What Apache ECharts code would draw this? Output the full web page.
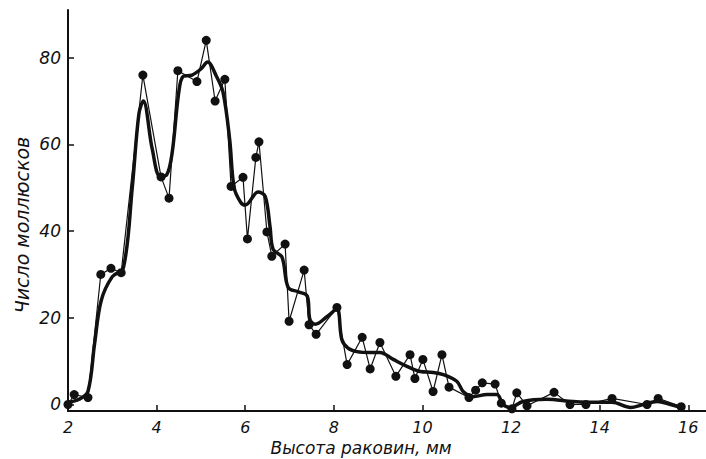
<!DOCTYPE html>
<html>
<head>
<meta charset="utf-8">
<script src="https://cdn.jsdelivr.net/npm/echarts@6/dist/echarts.min.js"></script>
<style>
  html, body { margin: 0; padding: 0; background: #fff; }
  #chart { width: 706px; height: 459px; }
</style>
</head>
<body>
<div id="chart"></div>
<script>
// raw counts (thin line with dots)
var rawX = [2.0, 2.14, 2.45, 2.74, 2.97, 3.2, 3.69, 4.1, 4.28, 4.48, 4.91, 5.12, 5.32, 5.54, 5.68, 5.95,
  6.05, 6.24, 6.31, 6.49, 6.6, 6.9, 6.99, 7.33, 7.44, 7.6, 8.07, 8.3, 8.64, 8.82, 9.04, 9.4,
  9.72, 9.83, 10.01, 10.24, 10.44, 10.6, 11.05, 11.2, 11.35, 11.64, 11.78, 12.02, 12.13, 12.36,
  12.97, 13.33, 13.69, 14.28, 15.07, 15.32, 15.84];
var rawY = [0, 2.3, 1.6, 30, 31.4, 30.4, 76, 52.5, 47.6, 77, 74.5, 84, 70, 75, 50.3, 52.4,
  38.2, 57, 60.6, 39.8, 34.2, 37, 19.2, 31, 18.4, 16.2, 22.4, 9.2, 15.5, 8.2, 14.3, 6.5,
  11.5, 6, 10.4, 3, 11.5, 4, 1.6, 3.3, 5, 4.7, 0.3, -1, 2.7, -0.3,
  2.8, 0, 0, 1.4, 0, 1.4, -0.5];

// smoothed curve (thick line)
var smoothX = [2.0, 2.25, 2.45, 2.6, 2.75, 3.0, 3.25, 3.45, 3.6, 3.7, 3.9, 4.08, 4.23, 4.35, 4.5, 4.6,
  4.8, 5.0, 5.15, 5.35, 5.5, 5.65, 5.75, 5.9, 6.0, 6.29, 6.45, 6.56, 6.63, 6.83, 6.97, 7.2, 7.4,
  7.46, 7.58, 7.85, 8.07, 8.18, 8.32, 8.52, 8.82, 9.04, 9.34, 9.65, 9.95, 10.24, 10.47, 10.78,
  10.92, 11.14, 11.46, 11.68, 11.82, 11.98, 12.27, 12.8, 13.4, 13.94, 14.28, 14.7, 14.98, 15.3,
  15.6, 15.84];
var smoothY = [0.5, 1.2, 3, 14, 24, 29.5, 31.5, 50, 67, 70, 59, 52.6, 53, 58, 72, 75.7,
  76, 77.4, 79, 75.7, 72, 61, 50, 46.6, 46, 49, 48, 41, 35.8, 34, 27, 26, 25,
  19.6, 18.5, 20.3, 22, 15, 13, 12.2, 12, 12, 10.4, 8.8, 7.6, 7.4, 6.9, 5.3,
  3, 1.8, 2.3, 2.3, 0, -0.7, 0.7, 1.2, 0.7, 0.5, 0.5, -0.7, 0, 0.7,
  0, -0.7];

var xTicks = [2, 4, 6, 8, 10, 12, 14, 16];
var yTicks = [0, 20, 40, 60, 80];

var xTitle = 'Высота раковин, мм';
var yTitle = 'Число моллюсков';

function zip(xs, ys) {
  var out = [];
  for (var i = 0; i < xs.length; i++) out.push([xs[i], ys[i]]);
  return out;
}

var font = 'DejaVu Sans';
var chart = echarts.init(document.getElementById('chart'), null, { renderer: 'svg' });

var option = {
  backgroundColor: '#ffffff',
  animation: false,
  grid: { left: 68, right: 0, top: 10, bottom: 48 },
  xAxis: {
    type: 'value',
    min: 2,
    max: 16.4,
    axisLine: { onZero: false, lineStyle: { color: '#111', width: 2 } },
    axisTick: { inside: true, length: 6, customValues: xTicks, lineStyle: { color: '#111', width: 1.5 } },
    axisLabel: {
      customValues: xTicks, margin: 8, color: '#111',
      fontFamily: font, fontStyle: 'italic', fontSize: 16
    },
    splitLine: { show: false }
  },
  yAxis: {
    type: 'value',
    min: -1.5,
    max: 91,
    axisLine: { show: true, onZero: false, lineStyle: { color: '#111', width: 2 } },
    axisTick: { show: true, inside: true, length: 6, customValues: yTicks, lineStyle: { color: '#111', width: 1.5 } },
    axisLabel: {
      customValues: yTicks, margin: 7, color: '#111',
      fontFamily: font, fontStyle: 'italic', fontSize: 17
    },
    splitLine: { show: false }
  },
  graphic: [
    {
      type: 'text', x: 361, y: 448,
      style: {
        text: xTitle, fill: '#111', font: 'italic 17px "DejaVu Sans"',
        textAlign: 'center', textVerticalAlign: 'middle'
      }
    },
    {
      type: 'text', x: 22, y: 225, rotation: Math.PI / 2,
      style: {
        text: yTitle, fill: '#111', font: 'italic 19px "DejaVu Sans"',
        textAlign: 'center', textVerticalAlign: 'middle'
      }
    }
  ],
  series: [
    {
      type: 'line',
      data: zip(rawX, rawY),
      symbol: 'circle',
      symbolSize: 9,
      itemStyle: { color: '#111' },
      lineStyle: { color: '#111', width: 1.2 },
      z: 3
    },
    {
      type: 'line',
      data: zip(smoothX, smoothY),
      smooth: 0.35,
      showSymbol: false,
      lineStyle: { color: '#111', width: 3.5 },
      z: 2
    }
  ]
};
chart.setOption(option);
</script>
</body>
</html>
